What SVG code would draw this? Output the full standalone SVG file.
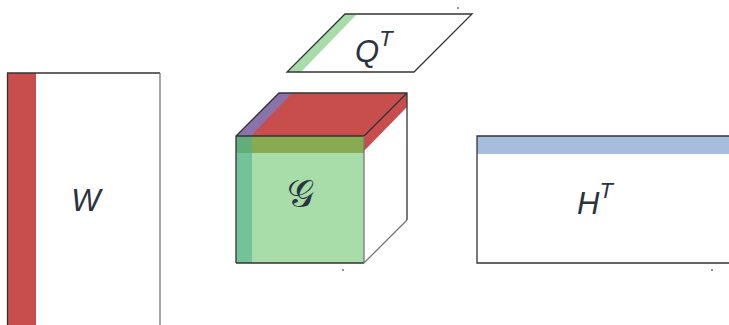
<svg xmlns="http://www.w3.org/2000/svg" width="729" height="325" viewBox="0 0 729 325">
<style>
.lbl{font-family:"Liberation Sans",Arial,sans-serif;font-style:italic;font-size:31px;fill:#2a3340;}
.sup{font-size:22px;}
.edge{fill:none;stroke:#333;stroke-width:1.3;}
.edge2{fill:none;stroke:#777;stroke-width:1.3;}
.dot{fill:#666;}
</style>
<rect width="729" height="325" fill="#fff"/>
<g id="W">
<rect x="7" y="73" width="153" height="260" fill="#fff"/>
<rect x="7" y="73" width="29" height="260" fill="#c84e4e"/>
<path class="edge" d="M7.5,330 V73 H160"/>
<path class="edge2" d="M160,73 V330"/>
<text class="lbl" x="86" y="211" text-anchor="middle">W</text>
</g>
<g id="QT">
<polygon points="345,14 472,14 414,72 287,72" fill="#fff"/>
<polygon points="345,14 357,14 301,72 287,72" fill="#a8dca8"/>
<polygon class="edge" points="345,14 472,14 414,72 287,72"/>
<text class="lbl" x="355" y="62">Q<tspan class="sup" dy="-16">T</tspan></text>
</g>
<g id="G">
<polygon points="236,136 279,93 407,93 364,136" fill="#c84e4e"/>
<polygon points="236,136 279,93 292,93 251,136" fill="#8a72aa"/>
<polygon points="364,136 407,93 407,220 364,263" fill="#fff"/>
<polygon points="364,136 407,93 407,107 364,151" fill="#c84e4e"/>
<rect x="236" y="136" width="128" height="127" fill="#a8dca8"/>
<rect x="236" y="136" width="128" height="17" fill="#88aa50"/>
<rect x="236" y="136" width="16" height="127" fill="#72c498"/>
<rect x="236" y="136" width="16" height="17" fill="#62ae78"/>
<path class="edge" d="M236,263 V136 L279,93 H407 V220 M236,136 H364 L407,93 M236,263 H364"/>
<path class="edge2" d="M364,136 V263 L407,220"/>
<text x="300" y="207" text-anchor="middle" font-family="'DejaVu Sans','Noto Sans',serif" font-size="38" fill="#2a3340">𝒢</text>
</g>
<g id="HT">
<rect x="477" y="136" width="260" height="127" fill="#fff"/>
<rect x="477" y="136" width="260" height="18" fill="#a8bcdc"/>
<path class="edge" d="M740,136 H477 V263 H740"/>
<text class="lbl" x="577" y="214">H<tspan class="sup" dy="-16">T</tspan></text>
</g>
<g id="connectors">
<circle class="dot" cx="458" cy="8" r="0.9"/>
<circle class="dot" cx="343" cy="270" r="0.9"/>
<circle class="dot" cx="712" cy="270" r="1"/>
</g>
</svg>
